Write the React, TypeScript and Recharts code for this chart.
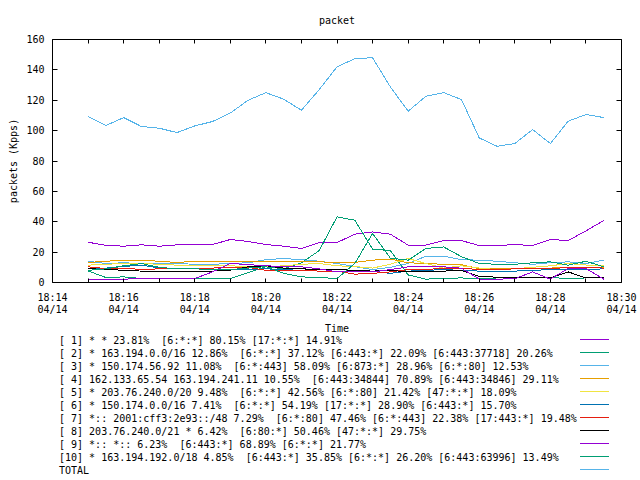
import { LineChart, Line, XAxis, YAxis, Legend, ReferenceArea } from 'recharts'

const FONT = '"DejaVu Sans Mono", monospace'

// sample times (30 s steps)
const times = [
  '18:15:00', '18:15:30', '18:16:00', '18:16:30', '18:17:00', '18:17:30',
  '18:18:00', '18:18:30', '18:19:00', '18:19:30', '18:20:00', '18:20:30',
  '18:21:00', '18:21:30', '18:22:00', '18:22:30', '18:23:00', '18:23:30',
  '18:24:00', '18:24:30', '18:25:00', '18:25:30', '18:26:00', '18:26:30',
  '18:27:00', '18:27:30', '18:28:00', '18:28:30', '18:29:00', '18:29:30',
]

const s1 = [26.5, 24.5, 23.9, 24.8, 23.9, 24.8, 25, 25, 28.3, 27, 25, 23.9, 22.4, 26.3, 26.3, 31.8, 33.3, 31.8, 24.6, 24.6, 27.6, 27.6, 24.3, 24.3, 25, 24.3, 28.3, 27.6, 34, 40.8]
const s2 = [7.6, 3.3, 3.7, 2.6, 2.6, 2.6, 2.6, 2.6, 2.6, 6.5, 10.5, 9, 13, 21, 43.2, 41, 22, 21, 5, 2.2, 2.8, 3, 2.5, 3, 3.3, 3, 3.3, 2.6, 3, 3.3]
const s3 = [14, 12.5, 13, 12.5, 12.5, 12.5, 12, 12, 12.5, 13, 15, 15.8, 15, 14, 12.5, 10.5, 8.5, 10, 12.5, 17.3, 17.3, 15, 14.7, 14, 13, 12, 13, 13.6, 12.5, 14.7]
const s4 = [13.2, 14, 14.7, 14.7, 14, 13.2, 14, 14, 14, 13.6, 13.6, 14, 13.6, 13.6, 13.2, 13.2, 14.7, 15.4, 13, 12.5, 12, 11.8, 9, 9, 9, 9.5, 9.5, 10, 9.5, 10]
const s5 = [11.4, 12, 12.5, 12.5, 12, 11.4, 11.4, 11, 11, 10.5, 10.3, 11, 12, 12.5, 11, 10.5, 9.5, 12, 15.8, 12.5, 9.5, 11, 9.5, 8.5, 9, 10, 11, 12.5, 11.5, 11]
const s6 = [9.5, 9.5, 10.5, 11.5, 9.5, 9, 9, 8.8, 8.8, 8.5, 9, 8.5, 8, 8.5, 8.5, 8, 7.5, 6, 7.5, 8, 8.5, 8, 7.5, 7, 7.5, 8, 8.5, 8.5, 8.5, 9]
const s7 = [10.3, 9.2, 9.5, 8.5, 9, 9, 9.2, 9.5, 10, 10, 8, 7.6, 8, 7.5, 7.5, 5.5, 6, 7, 8.5, 8.5, 9.5, 9.5, 8.5, 8.5, 9, 9, 9, 10, 10, 9.5]
const s8 = [9.2, 8.5, 8.1, 7.5, 7, 7, 7, 7.5, 8.1, 10.3, 11, 9.5, 9, 8.5, 8.5, 8, 7.5, 8, 7, 7, 7.5, 8, 4, 3.5, 3, 3.5, 3, 7, 3, 3]
const s9 = [2.2, 2.2, 2.2, 2.6, 2.6, 2.6, 2.6, 7, 12.5, 11.8, 11, 10.5, 10.3, 9, 7, 7, 7, 8.5, 10.3, 10.3, 10.3, 9.4, 2.2, 2.2, 2.5, 7, 2.2, 9.2, 9.2, 2.2]
const s10 = [8, 9, 11, 12.5, 10, 9, 9, 8.5, 8.5, 9.5, 10.5, 6, 3.7, 3.3, 2.6, 12.5, 32.3, 16, 14.7, 22.4, 23.4, 17, 12.5, 12, 12, 13, 13.6, 11.4, 14, 10.3]
const total = [109.3, 103.3, 108.6, 102.7, 101.6, 98.7, 103.1, 106, 111.6, 120, 125, 120.7, 113.4, 127, 142, 147.4, 148, 128.8, 112.8, 122.6, 125, 120.5, 95.2, 89.7, 91.5, 100.7, 91.5, 106.2, 110.6, 108.6]

const seriesNames = [
  '[ 1] * * 23.81%  [6:*:*] 80.15% [17:*:*] 14.91%',
  '[ 2] * 163.194.0.0/16 12.86%  [6:*:*] 37.12% [6:443:*] 22.09% [6:443:37718] 20.26%',
  '[ 3] * 150.174.56.92 11.08%  [6:*:443] 58.09% [6:873:*] 28.96% [6:*:80] 12.53%',
  '[ 4] 162.133.65.54 163.194.241.11 10.55%  [6:443:34844] 70.89% [6:443:34846] 29.11%',
  '[ 5] * 203.76.240.0/20 9.48%  [6:*:*] 42.56% [6:*:80] 21.42% [47:*:*] 18.09%',
  '[ 6] * 150.174.0.0/16 7.41%  [6:*:*] 54.19% [17:*:*] 28.90% [6:443:*] 15.70%',
  '[ 7] *:: 2001:cff3:2e93::/48 7.29%  [6:*:80] 47.46% [6:*:443] 22.38% [17:443:*] 19.48%',
  '[ 8] 203.76.240.0/21 * 6.42%  [6:80:*] 50.46% [47:*:*] 29.75%',
  '[ 9] *:: *:: 6.23%  [6:443:*] 68.89% [6:*:*] 21.77%',
  '[10] * 163.194.192.0/18 4.85%  [6:443:*] 35.85% [6:*:*] 26.20% [6:443:63996] 13.49%',
  'TOTAL',
]
const seriesColors = ['#9400D3', '#009E73', '#56B4E9', '#E69F00', '#F0E442', '#0072B2', '#E51E10', '#000000', '#9400D3', '#009E73', '#56B4E9']
const seriesValues = [s1, s2, s3, s4, s5, s6, s7, s8, s9, s10, total]

// x axis: minutes after 18:14
const xTicks = [0, 1, 2, 3, 4, 5, 6, 7, 8, 9, 10, 11, 12, 13, 14, 15, 16]
const xTickLabels: Record<number, string> = {
  0: '18:14', 2: '18:16', 4: '18:18', 6: '18:20', 8: '18:22',
  10: '18:24', 12: '18:26', 14: '18:28', 16: '18:30',
}
const xDateLabel = '04/14'
const yTicks = [0, 20, 40, 60, 80, 100, 120, 140, 160]

const PLOT_W = 569
const PLOT_H = 243

function toMinutes(t: string) {
  const [h, m, s] = t.split(':').map(Number)
  return h * 60 + m + s / 60 - (18 * 60 + 14)
}

const data = times.map((t, i) => {
  const row: Record<string, number> = { t: toMinutes(t) }
  seriesValues.forEach((vals, k) => {
    row[`s${k}`] = vals[i]
  })
  return row
})

const px = (v: number) => Math.round(v - 0.5) + 0.5

function XTick(props: any) {
  const { x, y, payload } = props
  const cx = px(x)
  const label = xTickLabels[payload.value]
  return (
    <g>
      <line x1={cx} x2={cx} y1={y} y2={y - 4} stroke="#000" />
      <line x1={cx} x2={cx} y1={y - PLOT_H} y2={y - PLOT_H + 4} stroke="#000" />
      {label && (
        <>
          <text x={x} y={y + 18} textAnchor="middle" fontFamily={FONT} fontSize={10} fill="#000">
            {label}
          </text>
          <text x={x} y={y + 30} textAnchor="middle" fontFamily={FONT} fontSize={10} fill="#000">
            {xDateLabel}
          </text>
        </>
      )}
    </g>
  )
}

function YTick(props: any) {
  const { x, y, payload } = props
  const cy = px(y)
  return (
    <g>
      <line x1={x} x2={x + 5} y1={cy} y2={cy} stroke="#000" />
      <line x1={x + PLOT_W - 5} x2={x + PLOT_W} y1={cy} y2={cy} stroke="#000" />
      <text x={x - 8} y={y + 3.5} textAnchor="end" fontFamily={FONT} fontSize={10} fill="#000">
        {payload.value}
      </text>
    </g>
  )
}

function LegendBox(props: any) {
  const payload = [...(props.payload || [])].sort(
    (a: any, b: any) => Number(String(a.dataKey).slice(1)) - Number(String(b.dataKey).slice(1))
  )
  return (
    <svg width={640} height={148} style={{ display: 'block' }}>
      {payload.map((item: any, i: number) => (
        <g key={String(item.dataKey)}>
          <text
            x={59}
            y={11.5 + 13 * i}
            fontFamily={FONT}
            fontSize={10}
            fill="#000"
            xmlSpace="preserve"
            style={{ whiteSpace: 'pre' }}
          >
            {item.value}
          </text>
          <line x1={580} x2={609} y1={7.5 + 13 * i} y2={7.5 + 13 * i} stroke={item.color} strokeWidth={1} />
        </g>
      ))}
    </svg>
  )
}

export default function App() {
  return (
    <div style={{ position: 'absolute', left: 0, top: 0, width: 640, height: 480, background: '#fff' }}>
      <div
        style={{
          position: 'absolute',
          left: 0,
          width: 674,
          top: 15,
          textAlign: 'center',
          fontFamily: FONT,
          fontSize: 10,
          lineHeight: '12px',
          color: '#000',
        }}
      >
        packet
      </div>
      <LineChart
        width={640}
        height={480}
        data={data}
        margin={{ top: 39.5, right: 18.5, left: 0.5, bottom: 145.5 }}
      >
        <XAxis
          dataKey="t"
          type="number"
          domain={[0, 16]}
          ticks={xTicks}
          interval={0}
          height={52}
          tickSize={0}
          tickMargin={0}
          tickLine={false}
          axisLine={false}
          tick={<XTick />}
          label={{ value: 'Time', position: 'insideBottom', offset: 3, fill: '#000', fontSize: 10, fontFamily: FONT }}
        />
        <YAxis
          type="number"
          domain={[0, 160]}
          ticks={yTicks}
          interval={0}
          width={52}
          tickSize={0}
          tickMargin={0}
          tickLine={false}
          axisLine={false}
          tick={<YTick />}
          label={() => (
            <text
              x={13}
              y={161}
              transform="rotate(-90 13 161)"
              textAnchor="middle"
              dominantBaseline="central"
              fontFamily={FONT}
              fontSize={10}
              fill="#000"
            >
              packets (Kpps)
            </text>
          )}
        />
        <ReferenceArea x1={0} x2={16} y1={0} y2={160} fill="none" stroke="#000" strokeWidth={1} ifOverflow="visible" />
        {seriesValues.map((_, k) => (
          <Line
            key={k}
            type="linear"
            dataKey={`s${k}`}
            name={seriesNames[k]}
            stroke={seriesColors[k]}
            strokeWidth={1}
            shapeRendering="crispEdges"
            dot={false}
            activeDot={false}
            isAnimationActive={false}
          />
        ))}
        <Legend
          layout="horizontal"
          verticalAlign="middle"
          align="center"
          content={<LegendBox />}
          wrapperStyle={{ position: 'absolute', top: 332, left: 0, width: 640, height: 148 }}
        />
      </LineChart>
    </div>
  )
}
